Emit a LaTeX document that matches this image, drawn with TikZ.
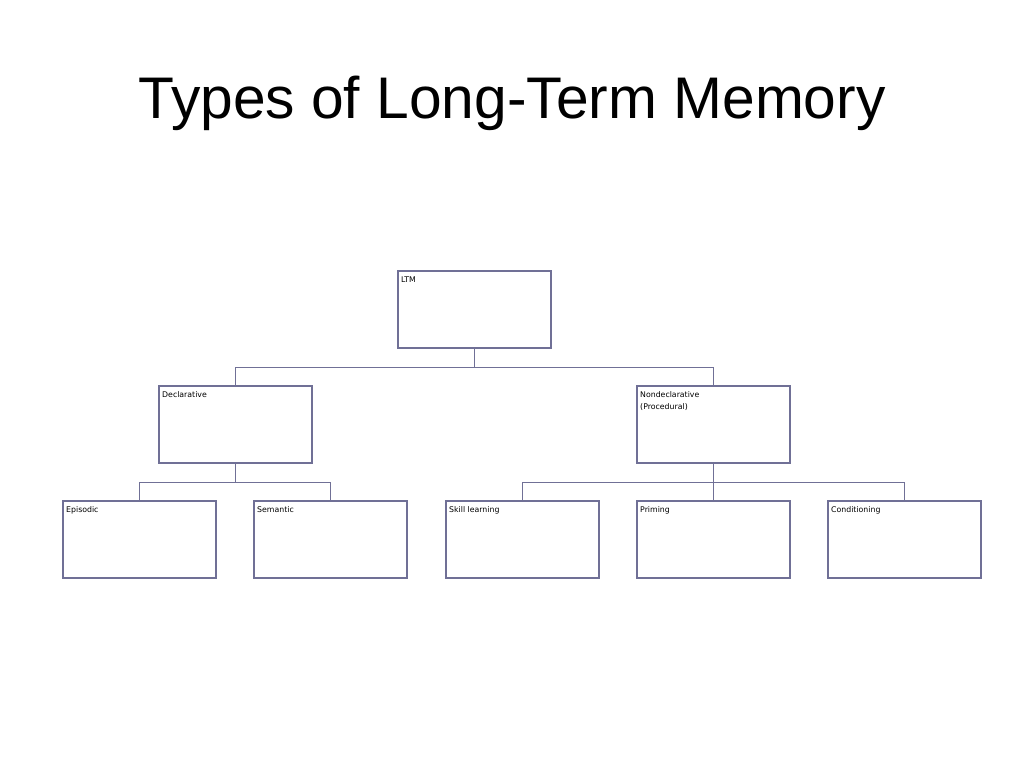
\documentclass[tikz,border=0pt]{standalone}
\usepackage{fontspec}
\setmainfont{Liberation Sans}
\newfontfamily\boxfont{DejaVu Sans}
\begin{document}
\begin{tikzpicture}[x=1pt,y=-1pt,
  bx/.style={draw=linec, line width=1.5pt, minimum width=153pt, minimum height=77pt, anchor=north west, inner sep=0pt},
  lbl/.style={anchor=north west, font=\boxfont\fontsize{7.8}{11.5}\selectfont, align=left, inner sep=0pt},
  ln/.style={draw=linec, line width=1.5pt}]
\definecolor{linec}{RGB}{112,112,150}
\useasboundingbox (0,0) rectangle (1024,768);
\node[font=\fontsize{58.7}{66}\selectfont] (title) at (512,103) {Types of Long-Term Memory};
\node[bx] (ltm) at (397,270) {};
\node[bx] (dec) at (158,385) {};
\node[bx] (non) at (636,385) {};
\node[bx] (epi) at (62,500) {};
\node[bx] (sem) at (253,500) {};
\node[bx] (ski) at (445,500) {};
\node[bx] (pri) at (636,500) {};
\node[bx] (con) at (827,500) {};
\node[lbl] at ([shift={(4,6.5)}]ltm.north west) {LTM};
\node[lbl] at ([shift={(4,6.5)}]dec.north west) {Declarative};
\node[lbl] at ([shift={(4,6.5)}]non.north west) {Nondeclarative\\(Procedural)};
\node[lbl] at ([shift={(4,6.5)}]epi.north west) {Episodic};
\node[lbl] at ([shift={(4,6.5)}]sem.north west) {Semantic};
\node[lbl] at ([shift={(4,6.5)}]ski.north west) {Skill learning};
\node[lbl] at ([shift={(4,6.5)}]pri.north west) {Priming};
\node[lbl] at ([shift={(4,6.5)}]con.north west) {Conditioning};
\draw[ln] (ltm.south) -- ++(0,19) -| (dec.north);
\draw[ln] (ltm.south) -- ++(0,19) -| (non.north);
\draw[ln] (dec.south) -- ++(0,19) -| (epi.north);
\draw[ln] (dec.south) -- ++(0,19) -| (sem.north);
\draw[ln] (non.south) -- ++(0,19) -| (ski.north);
\draw[ln] (non.south) -- (pri.north);
\draw[ln] (non.south) -- ++(0,19) -| (con.north);
\end{tikzpicture}
\end{document}
